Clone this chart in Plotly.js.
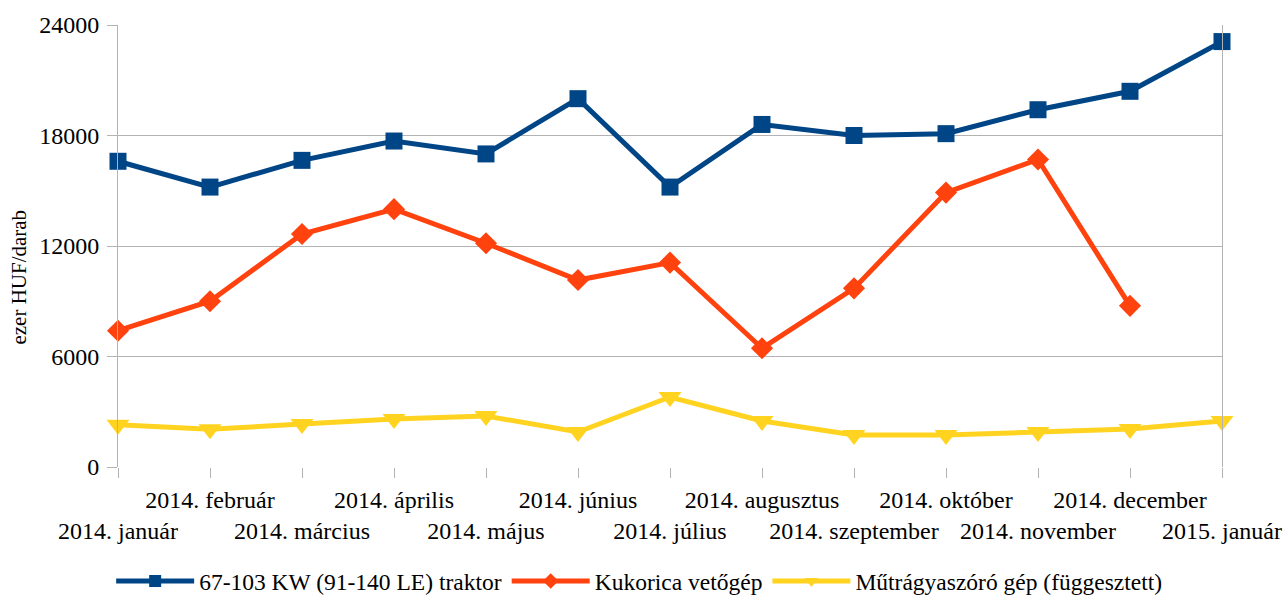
<!DOCTYPE html>
<html>
<head>
<meta charset="utf-8">
<script src="https://cdn.plot.ly/plotly-3.0.1.min.js"></script>
<style>body{margin:0;padding:0;background:#fff}#chart{width:1286px;height:598px}</style>
</head>
<body>
<div id="chart"></div>
<script>
const categories = ["2014. január","2014. február","2014. március","2014. április","2014. május","2014. június","2014. július","2014. augusztus","2014. szeptember","2014. október","2014. november","2014. december","2015. január"];
const traktor = [16600,15200,16650,17700,17000,20000,15200,18600,18000,18100,19400,20400,23100];
const kukorica = [7400,9000,12650,14000,12150,10150,11100,6450,9700,14900,16700,8750,null];
const mutragya = [2300,2050,2330,2600,2770,1900,3800,2500,1740,1740,1900,2060,2500];
const seriesNames = ["67-103 KW (91-140 LE) traktor","Kukorica vetőgép","Műtrágyaszóró gép (függesztett)"];
const yTicks = [0,6000,12000,18000,24000];

const idx = categories.map((c,i)=>i);
const fam = "Liberation Serif, 'Times New Roman', serif";
const fs = 24;

const traces = [
  {x:idx, y:traktor, name:seriesNames[0], mode:"lines+markers", cliponaxis:false, line:{color:"#004586",width:5}, marker:{symbol:"square",size:17,color:"#004586"}},
  {x:idx, y:kukorica, name:seriesNames[1], mode:"lines+markers", cliponaxis:false, line:{color:"#ff420e",width:5}, marker:{symbol:"diamond",size:17,color:"#ff420e"}},
  {x:idx, y:mutragya, name:seriesNames[2], mode:"lines+markers", cliponaxis:false, line:{color:"#ffd320",width:5}, marker:{symbol:"triangle-down",size:20,color:"#ffd320"}}
];

const oddVals = idx.filter(i=>i%2===1), evenVals = idx.filter(i=>i%2===0);
const tf = {family:fam,size:fs,color:"#000"};

const layout = {
  width:1286, height:598,
  margin:{l:118, r:64, t:25, b:131},
  paper_bgcolor:"#fff", plot_bgcolor:"#fff",
  font:tf,
  showlegend:true,
  legend:{orientation:"h", x:0.497, xref:"container", xanchor:"center", yref:"container", y:0.028, yanchor:"middle", itemwidth:78, itemsizing:"constant", font:{family:fam,size:23.5,color:"#000"}, traceorder:"normal"},
  xaxis:{range:[0,12], tickmode:"array", tickvals:oddVals, ticktext:oddVals.map(i=>categories[i]), automargin:false,
    showgrid:false, zeroline:false, showline:false, ticks:"", tickfont:tf, ticklabelstandoff:16},
  xaxis2:{range:[0,12], overlaying:"x", anchor:"y", side:"bottom", tickmode:"array", tickvals:evenVals, ticktext:evenVals.map(i=>categories[i]), automargin:false,
    showgrid:false, zeroline:false, showline:false, ticks:"", tickfont:tf, ticklabelstandoff:47},
  xaxis3:{range:[0,12], overlaying:"x", anchor:"y", side:"bottom", tickmode:"array", tickvals:idx, showticklabels:false, automargin:false,
    showgrid:false, zeroline:false, showline:false, ticks:"outside", ticklen:10, tickcolor:"#b3b3b3", tickwidth:1},
  yaxis:{range:[0,24000], tickmode:"array", tickvals:yTicks, ticktext:yTicks.map(String), showgrid:true, gridcolor:"#b3b3b3", gridwidth:1, automargin:false,
    zeroline:false, showline:true, mirror:true, linecolor:"#b3b3b3", linewidth:1, ticks:"outside", ticklen:10, tickcolor:"#b3b3b3", tickfont:tf, ticklabelstandoff:3},
  annotations:[{text:"ezer HUF/darab", xref:"paper", yref:"paper", x:-0.09, y:0.43, xanchor:"center", yanchor:"middle", textangle:-90, showarrow:false, font:{family:fam,size:21,color:"#000"}}]
};

traces.push({x:[0],y:[null],xaxis:"x2",yaxis:"y",showlegend:false,hoverinfo:"skip"});
traces.push({x:[0],y:[null],xaxis:"x3",yaxis:"y",showlegend:false,hoverinfo:"skip"});

Plotly.newPlot("chart", traces, layout, {displayModeBar:false, staticPlot:true});
</script>
</body>
</html>
